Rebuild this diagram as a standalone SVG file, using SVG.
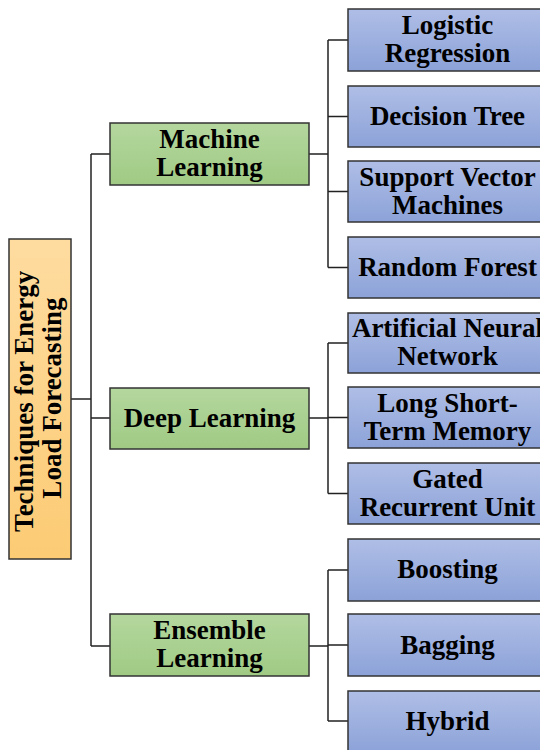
<svg xmlns="http://www.w3.org/2000/svg" width="540" height="750" viewBox="0 0 540 750">
  <style>
    .box { stroke: #333333; stroke-width: 1.5; }
    .root { fill: url(#gOrange); }
    .cat { fill: url(#gGreen); }
    .leaf { fill: url(#gBlue); }
    .lbl { font-family: "Liberation Serif", "Times New Roman", serif; font-weight: bold; font-size: 27px; fill: #000; text-anchor: middle; }
    .wire { fill: none; stroke: #222; stroke-width: 1.5; }
  </style>
  <defs>
    <linearGradient id="gOrange" x1="0" y1="0" x2="0" y2="1">
      <stop offset="0" stop-color="#fedca0"/>
      <stop offset="1" stop-color="#fccb74"/>
    </linearGradient>
    <linearGradient id="gGreen" x1="0" y1="0" x2="0" y2="1">
      <stop offset="0" stop-color="#b4d79e"/>
      <stop offset="1" stop-color="#a0ca84"/>
    </linearGradient>
    <linearGradient id="gBlue" x1="0" y1="0" x2="0" y2="1">
      <stop offset="0" stop-color="#afbee6"/>
      <stop offset="1" stop-color="#8ca2d8"/>
    </linearGradient>
  </defs>
  <rect width="540" height="750" fill="#ffffff"/>

  <!-- connectors -->
  <g id="connectors">
    <path class="wire" d="M71 399 H91"/>
    <path class="wire" d="M91 154 V646"/>
    <path class="wire" d="M91 154 H110 M91 418 H110 M91 646 H110"/>
    <path class="wire" d="M309 154 H328 M328 40 V267.5 M328 40 H348 M328 116.5 H348 M328 191.5 H348 M328 267.5 H348"/>
    <path class="wire" d="M309 418 H328 M328 343 V493.5 M328 343 H348 M328 417.5 H348 M328 493.5 H348"/>
    <path class="wire" d="M309 646 H328 M328 570 V721 M328 570 H348 M328 645 H348 M328 721 H348"/>
  </g>

  <!-- root -->
  <g id="root">
    <rect class="box root" x="9" y="239" width="62" height="320"/>
    <text class="lbl" transform="translate(40,398) rotate(-90)">
      <tspan x="0" y="-7">Techniques for Energy</tspan>
      <tspan x="0" y="21">Load Forecasting</tspan>
    </text>
  </g>

  <!-- categories -->
  <g id="machine-learning">
    <rect class="box cat" x="110" y="123" width="199" height="62"/>
    <text class="lbl"><tspan x="209.5" y="148">Machine</tspan><tspan x="209.5" y="176">Learning</tspan></text>
  </g>
  <g id="deep-learning">
    <rect class="box cat" x="110" y="388" width="199" height="61"/>
    <text class="lbl" x="209.5" y="427">Deep Learning</text>
  </g>
  <g id="ensemble-learning">
    <rect class="box cat" x="110" y="614" width="199" height="62"/>
    <text class="lbl"><tspan x="209.5" y="639">Ensemble</tspan><tspan x="209.5" y="667">Learning</tspan></text>
  </g>

  <!-- machine learning methods -->
  <g id="logistic-regression">
    <rect class="box leaf" x="348" y="9" width="200" height="62"/>
    <text class="lbl"><tspan x="447.5" y="34">Logistic</tspan><tspan x="447.5" y="62">Regression</tspan></text>
  </g>
  <g id="decision-tree">
    <rect class="box leaf" x="348" y="86" width="200" height="61"/>
    <text class="lbl" x="447.5" y="125">Decision Tree</text>
  </g>
  <g id="svm">
    <rect class="box leaf" x="348" y="161" width="200" height="61"/>
    <text class="lbl"><tspan x="447.5" y="186">Support Vector</tspan><tspan x="447.5" y="214">Machines</tspan></text>
  </g>
  <g id="random-forest">
    <rect class="box leaf" x="348" y="237" width="200" height="61"/>
    <text class="lbl" x="447.5" y="276">Random Forest</text>
  </g>

  <!-- deep learning methods -->
  <g id="ann">
    <rect class="box leaf" x="348" y="313" width="200" height="60"/>
    <text class="lbl"><tspan x="447.5" y="337">Artificial Neural</tspan><tspan x="447.5" y="365">Network</tspan></text>
  </g>
  <g id="lstm">
    <rect class="box leaf" x="348" y="387" width="200" height="61"/>
    <text class="lbl"><tspan x="447.5" y="412">Long Short-</tspan><tspan x="447.5" y="440">Term Memory</tspan></text>
  </g>
  <g id="gru">
    <rect class="box leaf" x="348" y="463" width="200" height="61"/>
    <text class="lbl"><tspan x="447.5" y="488">Gated</tspan><tspan x="447.5" y="516">Recurrent Unit</tspan></text>
  </g>

  <!-- ensemble methods -->
  <g id="boosting">
    <rect class="box leaf" x="348" y="539" width="200" height="62"/>
    <text class="lbl" x="447.5" y="578">Boosting</text>
  </g>
  <g id="bagging">
    <rect class="box leaf" x="348" y="614" width="200" height="62"/>
    <text class="lbl" x="447.5" y="654">Bagging</text>
  </g>
  <g id="hybrid">
    <rect class="box leaf" x="348" y="691" width="200" height="62"/>
    <text class="lbl" x="447.5" y="730">Hybrid</text>
  </g>
</svg>
